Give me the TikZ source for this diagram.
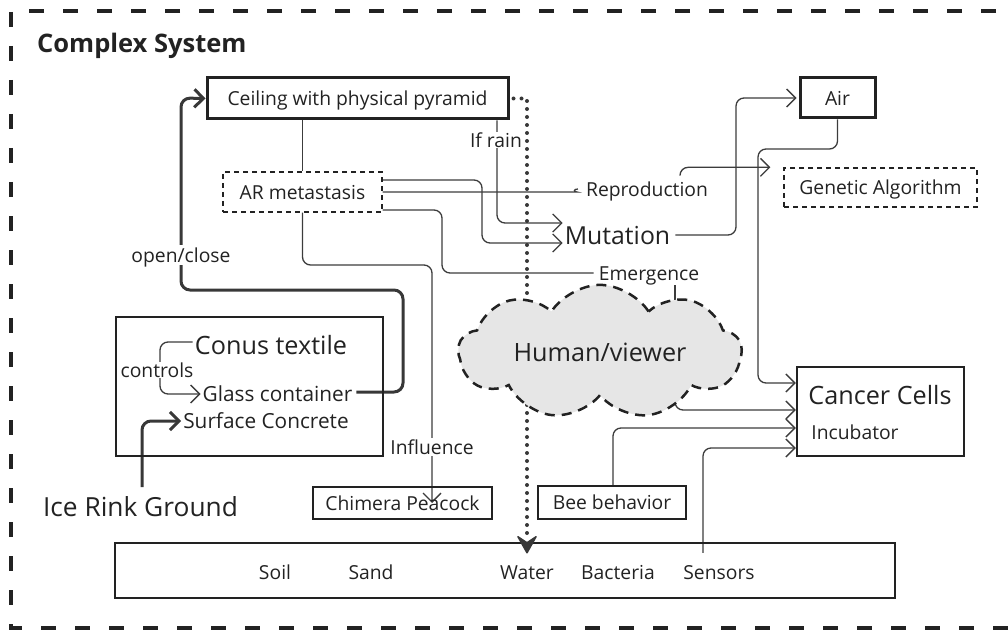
\documentclass[tikz,border=0pt]{standalone}
\usepackage{fontspec}
\setmainfont{Open Sans}
\usetikzlibrary{arrows.meta,shapes.symbols}
\pgfdeclarelayer{bg}
\pgfsetlayers{bg,main}
\definecolor{ink}{HTML}{222222}
\definecolor{ln}{HTML}{3C3C3C}
\definecolor{cloudfill}{HTML}{E6E6E6}
\newcommand{\fsz}[1]{\fontsize{#1}{#1}\selectfont}
\begin{document}
\begin{tikzpicture}[x=1pt,y=-1pt,
  txt/.style={inner sep=0pt, text=ink, text depth=0pt},
  lbl/.style={txt, font=\fsz{19.3}, text height=14.1pt},
  mid/.style={txt, font=\fsz{20.8}, text height=15.2pt},
  big/.style={txt, font=\fsz{25.2}, text height=18.4pt},
  onlbl/.style={lbl, fill=white, inner sep=2pt},
  boxthick/.style={draw=ink, line width=3pt, lbl},
  boxmid/.style={draw=ink, line width=2.5pt, lbl},
  boxdash/.style={draw=ink, line width=1.3pt, dash pattern=on 5pt off 4pt, lbl},
  conn/.style={draw=ln, line width=1.3pt, rounded corners=8pt},
  arr/.style={conn, -{Straight Barb[length=9pt,width=18pt]}},
  thickarr/.style={draw=ink!90, line width=3pt, rounded corners=9pt, -{Straight Barb[length=9pt,width=18pt]}},
  dotline/.style={draw=ink!90, line width=4pt, line cap=round, dash pattern=on 0pt off 8pt},
  dottip/.style={draw=ink!90, fill=ink!90, line width=1.5pt, line join=round},
]
\useasboundingbox (0,0) rectangle (1008,631);
% frame
\draw[draw=ink, line width=4pt, dash pattern=on 15pt off 19pt] (1030,11) -- (11,11) -- (11,628) -- (1030,628);
\node[anchor=base west, inner sep=0pt, text=ink, font=\bfseries\fsz{25.5}] (title) at (37,53) {Complex System};

% boxes
\node[boxthick, minimum width=301pt, minimum height=41pt] (ceil) at (357.5,98.5) {Ceiling with physical pyramid};
\node[boxthick, minimum width=75pt, minimum height=40pt] (air) at (837.5,98) {Air};
\node[boxdash, minimum width=159pt, minimum height=40pt] (ar) at (302.5,192) {AR metastasis};
\node[boxdash, minimum width=193pt, minimum height=39pt] (ga) at (880.5,187.5) {Genetic Algorithm};
\node[boxmid, minimum width=179pt, minimum height=32pt] (chim) at (402.5,503) {Chimera Peacock};
\node[boxmid, minimum width=148pt, minimum height=33pt] (bee) at (612,502.5) {Bee behavior};
\node[boxmid, minimum width=167pt, minimum height=89pt] (cancer) at (880.5,411.5) {};
\node[big] (cancertxt) at (880,395) {Cancer Cells};
\node[lbl] (incub) at (855,432) {Incubator};
\node[boxmid, minimum width=267pt, minimum height=139pt] (conusbox) at (249.5,386.5) {};
\node[big] (conus) at (271,345) {Conus textile};
\node[mid] (glass) at (277.5,394) {Glass container};
\node[mid] (surface) at (266,421) {Surface Concrete};
\node[txt, font=\fsz{26.3}, text height=19.2pt] (ice) at (140.5,507) {Ice Rink Ground};
\node[boxmid, minimum width=780pt, minimum height=55pt] (ground) at (505,570.5) {};
\node[lbl] (soil) at (275,572) {Soil};
\node[lbl] (sand) at (371,572) {Sand};
\node[lbl] (water) at (527,572) {Water};
\node[lbl] (bact) at (618,572) {Bacteria};
\node[lbl] (sens) at (719,572) {Sensors};
\node[txt, font=\fsz{24.8}, text height=18.1pt] (mut) at (617.5,235) {Mutation};
\node[lbl] (repr) at (647,189) {Reproduction};
\node[lbl] (emer) at (649,273) {Emergence};
\node[cloud, cloud puffs=9, cloud puff arc=115, aspect=2.6, draw=ink, line width=2.5pt,
      dash pattern=on 10pt off 7pt, fill=cloudfill, minimum width=283pt, minimum height=90pt,
      inner sep=0pt, font=\fsz{25.2}, text=ink, text height=18.4pt, text depth=0pt] (hv) at (600,352) {Human/viewer};

% labels on lines
\node[onlbl, inner sep=1pt] (ifrain) at (496,140) {If rain};
\node[onlbl, inner sep=3pt] (openclose) at (181,255) {open/close};
\node[onlbl] (influence) at (432,447) {Influence};
\node[onlbl, inner sep=1pt] (controls) at (157,370) {controls};

\begin{pgfonlayer}{bg}
\draw[thickarr] ([xshift=4pt,yshift=2pt]glass.east) -| (403,290) -| (181,98) -- (ceil.west);
\draw[thickarr] ([xshift=1.5pt,yshift=10pt]ice.north) |- ([xshift=-2pt]surface.west);
\draw[arr] ([xshift=-2pt,yshift=3pt]conus.west) -| (160,394) -- ([xshift=-2pt]glass.west);
\draw[conn] (ceil.south -| ar.north) -- (ar.north);
\draw[arr] ([xshift=139.5pt]ceil.south) |- ([xshift=-2pt,yshift=12pt]mut.west);
\draw[arr] ([yshift=12pt]ar.east) -- (482,180) |- ([xshift=-2pt,yshift=-8pt]mut.west);
\draw[conn] (ar.east) -- (569,192) .. controls (574,192) and (573,189) .. ([xshift=-8pt]repr.west);
\draw[arr] ([xshift=33pt,yshift=6pt]repr.north) |- ([xshift=-13pt]ga.north west);
\draw[conn] ([yshift=-18pt]ar.east) -- (442,210) |- ([xshift=-5pt]emer.west);
\draw[conn] ([xshift=26pt,yshift=-5pt]emer.south) -- ([xshift=75pt]hv.center);
\draw[arr] ([xshift=75pt]hv.center) |- ([yshift=1.5pt]cancer.west);
\draw[arr] ([xshift=1pt]bee.north) |- ([yshift=-16.5pt]cancer.west);
\draw[arr] ([xshift=-16pt,yshift=12pt]sens.north) |- ([yshift=-36.5pt]cancer.west);
\draw[arr] (air.south) -- (837.5,149) -| (758,383) -- ([yshift=28.5pt]cancer.west);
\draw[arr] ([xshift=5pt]mut.east) -| (736,98) -- ([xshift=-2pt]air.west);
\draw[arr] (ar.south) -- (302.5,265) -| ([xshift=29.5pt]chim.center);
\draw[dotline] ([xshift=4pt]ceil.east) -| ([yshift=24pt]water.north);
\end{pgfonlayer}
\draw[dottip] ([yshift=12pt]water.north) -- ++(-9,-16) -- ++(9,6) -- ++(9,-6) -- cycle;
\end{tikzpicture}
\end{document}
